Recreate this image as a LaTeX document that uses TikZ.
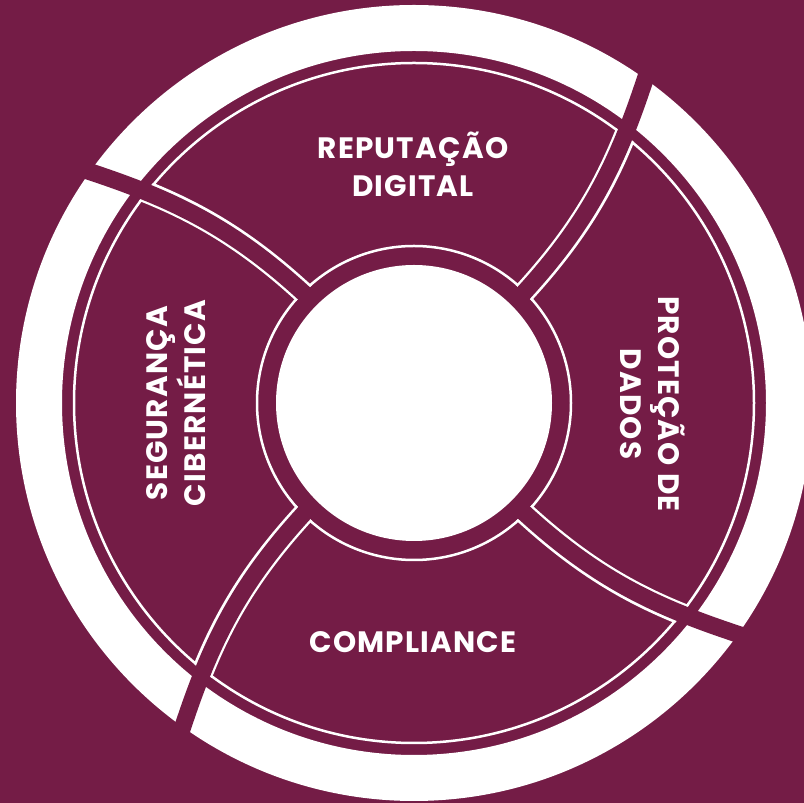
\documentclass[tikz,border=0pt]{standalone}
\usepackage{fontspec}
\setmainfont{Poppins}[LetterSpace=4]
\definecolor{maroon}{HTML}{741C46}
\begin{document}
\begin{tikzpicture}[x=1pt,y=1pt,
  lbl/.style={text=white, font=\bfseries\fontsize{29.5}{38}\selectfont, align=center, inner sep=0pt},
  thinline/.style={white, line width=2.5pt},
  sepedge/.style={white, line width=22pt},
  sepband/.style={maroon, line width=17pt}
]
\clip (0,0) rectangle (804,803);
\fill[maroon] (0,0) rectangle (804,803);
\coordinate (c) at (414,400);
% outer white ring
\fill[white, even odd rule] (c) circle[radius=398] (c) circle[radius=352];
% segment outlines
\draw[thinline] (c) circle[radius=340];
\draw[thinline] (c) circle[radius=157];
\begin{scope}[even odd rule]
  \clip (c) circle[radius=341.25] (c) circle[radius=155.75];
  \foreach \a in {45,135,225,315} {
    \draw[sepedge, shift={(c)}, rotate=\a] (150,0) .. controls (265,4) and (330,32) .. (420,80);
  }
\end{scope}
\foreach \a in {45,135,225,315} {
  \draw[sepband, shift={(c)}, rotate=\a] (148,0) .. controls (265,4) and (330,32) .. (430,85);
}
% centre disk
\fill[white] (c) circle[radius=138];
% labels
\node[lbl] (rep) at (413,639) {REPUTAÇÃO\\DIGITAL};
\node[lbl, rotate=-90] (prot) at (653,399) {PROTEÇÃO DE\\DADOS};
\node[lbl] (comp) at (413,161) {COMPLIANCE};
\node[lbl, rotate=90] (seg) at (176,400) {SEGURANÇA\\CIBERNÉTICA};
\end{tikzpicture}
\end{document}
